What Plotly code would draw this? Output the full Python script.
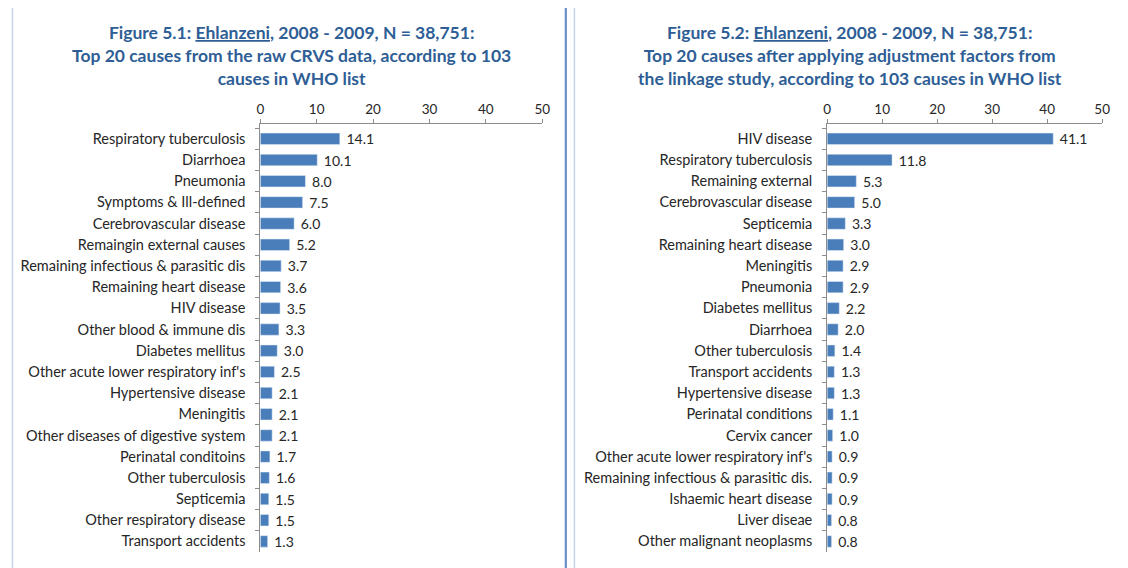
import plotly.graph_objects as go

# page is shown with an 8px body margin, so the figure is 8px smaller in each direction
OFF = 8
W, H = 1120, 560

causes_raw = [
    "Respiratory tuberculosis", "Diarrhoea", "Pneumonia", "Symptoms & Ill-defined",
    "Cerebrovascular disease", "Remaingin external causes",
    "Remaining infectious & parasitic dis", "Remaining heart disease", "HIV disease",
    "Other blood & immune dis", "Diabetes mellitus", "Other acute lower respiratory inf's",
    "Hypertensive disease", "Meningitis", "Other diseases of digestive system",
    "Perinatal conditoins", "Other tuberculosis", "Septicemia",
    "Other respiratory disease", "Transport accidents",
]
values_raw = [14.1, 10.1, 8.0, 7.5, 6.0, 5.2, 3.7, 3.6, 3.5, 3.3, 3.0, 2.5, 2.1, 2.1, 2.1,
              1.7, 1.6, 1.5, 1.5, 1.3]

causes_adj = [
    "HIV disease", "Respiratory tuberculosis", "Remaining external",
    "Cerebrovascular disease", "Septicemia", "Remaining heart disease", "Meningitis",
    "Pneumonia", "Diabetes mellitus", "Diarrhoea", "Other tuberculosis",
    "Transport accidents", "Hypertensive disease", "Perinatal conditions", "Cervix cancer",
    "Other acute lower respiratory inf's", "Remaining infectious & parasitic dis.",
    "Ishaemic heart disease", "Liver diseae", "Other malignant neoplasms",
]
values_adj = [41.1, 11.8, 5.3, 5.0, 3.3, 3.0, 2.9, 2.9, 2.2, 2.0, 1.4, 1.3, 1.3, 1.1, 1.0,
              0.9, 0.9, 0.9, 0.8, 0.8]

x_ticks = [0, 10, 20, 30, 40, 50]

title_left = ("Figure 5.1: <u>Ehlanzeni</u>, 2008 - 2009, N = 38,751:<br>"
              "Top 20 causes from the raw CRVS data, according to 103<br>causes in WHO list")
title_right = ("Figure 5.2: <u>Ehlanzeni</u>, 2008 - 2009, N = 38,751:<br>"
               "Top 20 causes after applying adjustment factors from<br>"
               "the linkage study, according to 103 causes in WHO list")

BAR = "#4A7EBB"
TXT = "#262626"
TITLE = "#2E5E95"
FONT = "Lato"
NB = "\u00a0"

fig = go.Figure()
fig.add_trace(go.Bar(x=values_raw, y=causes_raw, orientation="h", marker_color=BAR,
                     text=[f"{NB}{v:.1f}" for v in values_raw], textposition="outside",
                     constraintext="none",
                     textfont=dict(size=14, color=TXT, family=FONT), cliponaxis=False,
                     xaxis="x", yaxis="y", showlegend=False))
fig.add_trace(go.Bar(x=values_adj, y=causes_adj, orientation="h", marker_color=BAR,
                     text=[f"{NB}{v:.1f}" for v in values_adj], textposition="outside",
                     constraintext="none",
                     textfont=dict(size=14, color=TXT, family=FONT), cliponaxis=False,
                     xaxis="x2", yaxis="y2", showlegend=False))

def px_x(p):
    return (p - OFF) / W

def px_y(p):
    return 1 - (p - OFF) / H

ydom = [px_y(552), px_y(124)]

xcommon = dict(range=[0, 50], tickvals=x_ticks, side="top", showgrid=False, zeroline=False,
               showline=True, linecolor="#8C8C8C", linewidth=1, ticks="outside", ticklen=4,
               tickcolor="#8C8C8C", tickfont=dict(size=13.5, color=TXT, family=FONT),
               fixedrange=True)
ycommon = dict(autorange=False, range=[19.5, -0.7], showgrid=False, showline=True,
               linecolor="#8C8C8C", linewidth=1, ticks="outside", ticklen=4,
               tickcolor="#8C8C8C", tickson="boundaries", ticklabelstandoff=11,
               tickfont=dict(size=14.5, color=TXT, family=FONT), domain=ydom, fixedrange=True)

fig.update_layout(
    width=W, height=H, margin=dict(l=0, r=0, t=0, b=0),
    paper_bgcolor="white", plot_bgcolor="rgba(0,0,0,0)", bargap=0.46,
    xaxis=dict(domain=[px_x(259), px_x(544)], anchor="y", **xcommon),
    yaxis=dict(anchor="x", categoryorder="array", categoryarray=causes_raw, **ycommon),
    xaxis2=dict(domain=[px_x(832), px_x(1110)], anchor="y2", **xcommon),
    yaxis2=dict(anchor="x2", categoryorder="array", categoryarray=causes_adj, **ycommon),
)

# panel borders
fig.add_shape(type="rect", xref="paper", yref="paper", x0=px_x(8.5), x1=px_x(567),
              y0=px_y(580), y1=px_y(6.5), line=dict(color="#C5D4EA", width=1.5),
              layer="below")
fig.add_shape(type="line", xref="paper", yref="paper", x0=px_x(568), x1=px_x(568),
              y0=px_y(580), y1=px_y(6), line=dict(color="#4A72B8", width=1.5))
fig.add_shape(type="rect", xref="paper", yref="paper", x0=px_x(576.5), x1=px_x(1140),
              y0=px_y(580), y1=px_y(6.5), line=dict(color="#C5D4EA", width=1.5),
              layer="below")

fig.add_annotation(text=title_left, xref="paper", yref="paper", x=px_x(291), y=px_y(20),
                   xanchor="center", yanchor="top", showarrow=False, align="center",
                   font=dict(size=17.5, color=TITLE, family=FONT, weight="bold"))
fig.add_annotation(text=title_right, xref="paper", yref="paper", x=px_x(855), y=px_y(20),
                   xanchor="center", yanchor="top", showarrow=False, align="center",
                   font=dict(size=17.5, color=TITLE, family=FONT, weight="bold"))

fig.write_html("out.html")
